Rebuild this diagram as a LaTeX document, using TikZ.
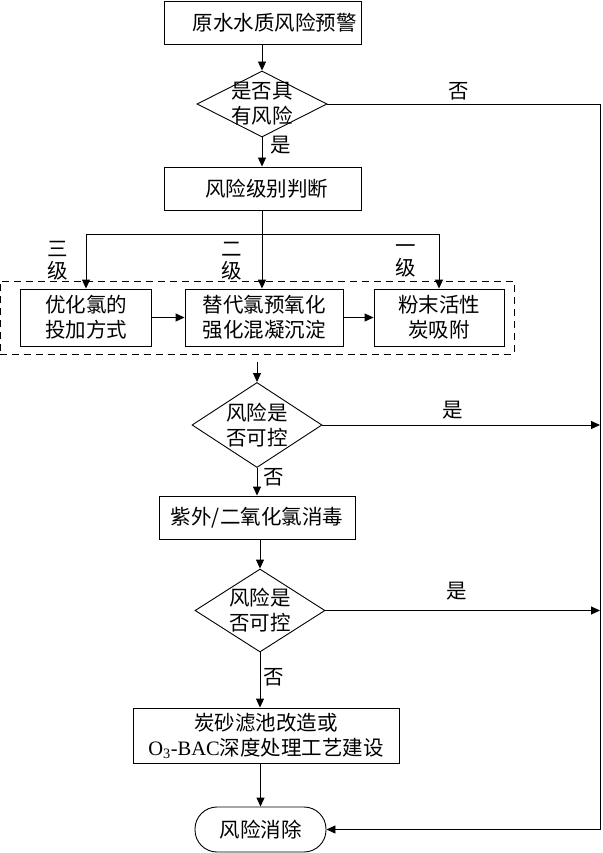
\documentclass[tikz,border=0pt]{standalone}
\usepackage{fontspec}
\setmainfont{Liberation Serif}
\newfontfamily\cjk{Noto Sans CJK SC}
\usepackage{tikz}
\usetikzlibrary{arrows.meta, positioning, shapes.geometric}

\begin{document}
\begin{tikzpicture}[x=1pt, y=-1pt,
  font=\cjk\fontsize{20.5}{25}\selectfont,
  proc/.style={draw, line width=0.9pt, inner sep=0pt, align=center},
  decide/.style={diamond, draw, line width=0.9pt, inner sep=0pt,
                 minimum width=130pt},
  group/.style={draw, line width=0.9pt, dash pattern=on 7pt off 5pt, inner sep=0pt},
  flow/.style={line width=0.9pt, -{Triangle[length=9pt, width=8pt]}},
  link/.style={line width=0.9pt},
  tag/.style={inner sep=1pt, align=center},
  lvltag/.style={inner sep=0pt, align=center, font=\cjk\fontsize{20.5}{22}\selectfont}
]
  \useasboundingbox (0,0) rectangle (602,853);

  % main column
  \node[proc, minimum width=197pt, minimum height=43pt] (warn) at (262.5,22.5) {\hspace*{24pt}原水水质风险预警};
  \node[decide, minimum height=66pt, label={[tag]center:是否具\\有风险}] (risk) at (262,104) {};
  \node[proc, minimum width=197pt, minimum height=43pt] (judge) at (262.5,188.5) {\hspace*{8pt}风险级别判断};

  % three levels
  \node[group, minimum width=514pt, minimum height=73pt] (lvl) at (257,317.5) {};
  \node[proc, minimum width=131pt, minimum height=57pt] (opt) at (86,317.5) {优化氯的\\投加方式};
  \node[proc, minimum width=158pt, minimum height=57pt] (pre) at (264,317.5) {替代氯预氧化\\强化混凝沉淀};
  \node[proc, minimum width=130pt, minimum height=57pt] (pac) at (439,317.5) {粉末活性\\炭吸附};

  \node[decide, minimum height=85pt, label={[tag]center:风险是\\否可控}] (ctrl1) at (257,425) {};
  \node[proc, minimum width=196pt, minimum height=43pt] (uv) at (257,517.5) {紫外/二氧化氯消毒};
  \node[decide, minimum height=83pt, label={[tag]center:风险是\\否可控}] (ctrl2) at (260,610.5) {};
  \node[proc, minimum width=266pt, minimum height=55pt] (deep) at (266,735.5)
    {炭砂滤池改造或\\{\normalfont O\textsubscript{3}-BAC}深度处理工艺建设};
  \node[proc, rounded corners=22pt, minimum width=131pt, minimum height=45pt] (done) at (260.5,829.5) {风险消除};

  \coordinate (rx) at (600,0);
  \coordinate (br) at (262,234);

  % connectors
  \draw[flow] (warn.south -| risk) -- (risk.north);
  \draw[flow] (risk.south) -- (risk.south |- judge.north);
  \draw[flow] (risk.east) -- (risk.east -| rx) |- (done.east);
  \draw[link] (judge.south -| br) -- (br);
  \draw[flow] (br) -| (opt.north);
  \draw[flow] (br) -- (br |- pre.north);
  \draw[flow] (br) -| (pac.north);
  \draw[flow] (opt.east) -- (pre.west);
  \draw[flow] (pre.east) -- (pac.west);
  \draw[flow] ([yshift=-8pt]lvl.south) -- (ctrl1.north);
  \draw[flow] (ctrl1.east) -- (ctrl1.east -| rx);
  \draw[flow] (ctrl1.south) -- (uv.north);
  \draw[flow] (uv.south -| ctrl2) -- (ctrl2.north);
  \draw[flow] (ctrl2.east) -- (ctrl2.east -| rx);
  \draw[flow] (ctrl2.south) -- (ctrl2.south |- deep.north);
  \draw[flow] (deep.south -| done) -- (done.north);

  % branch labels
  \node[tag] (no1) at (459,91) {否};
  \node[tag] (yes1) at (281,145) {是};
  \node[lvltag] (lv3) at (58,261) {三\\级};
  \node[lvltag] (lv2) at (232,261) {二\\级};
  \node[lvltag] (lv1) at (406,261) {一\\级};
  \node[tag] (yes2) at (453,410) {是};
  \node[tag] (no2) at (274,477) {否};
  \node[tag] (yes3) at (457,591) {是};
  \node[tag] (no3) at (274,677) {否};
\end{tikzpicture}
\end{document}
